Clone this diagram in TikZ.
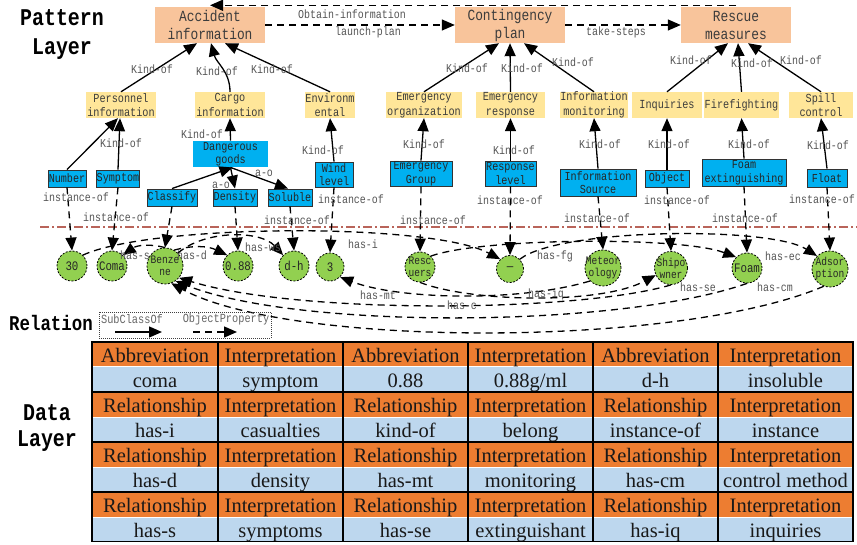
\documentclass[tikz,border=0pt]{standalone}
\usepackage{fontspec}
\setmainfont{Liberation Serif}
\newfontfamily\mono[FakeStretch=0.83]{Liberation Mono}
\usetikzlibrary{arrows.meta,calc}
\definecolor{peach}{RGB}{248,196,155}
\definecolor{ylw}{RGB}{255,230,153}
\definecolor{cyanb}{RGB}{0,176,240}
\definecolor{grn}{RGB}{146,208,80}
\definecolor{torange}{RGB}{237,125,49}
\definecolor{tblue}{RGB}{189,215,238}
\definecolor{sepred}{RGB}{185,100,90}
\definecolor{lblgray}{RGB}{85,85,85}
\definecolor{txtgray}{RGB}{60,60,60}
\tikzset{
 peachbox/.style={rectangle, fill=peach, minimum width=110, minimum height=36, inner sep=0pt, align=center, font={\mono\fontsize{15.5}{18}\selectfont}, text=txtgray},
 ybox/.style={rectangle, fill=ylw, minimum height=26, inner sep=0pt, align=center, font={\mono\fontsize{12.3}{14.5}\selectfont}, text=txtgray},
 bbox/.style={rectangle, fill=cyanb, draw=black!80, line width=0.9pt, inner sep=0pt, align=center, font={\mono\fontsize{12.2}{13.5}\selectfont}, text=black!85},
 inst/.style={circle, fill=grn, draw=black, line width=0.8pt, dash pattern=on 2pt off 1.5pt, inner sep=-6pt, align=center, font={\mono\fontsize{13}{12}\selectfont}, text=black!85},
 inst2/.style={inst, font={\mono\fontsize{11.5}{12}\selectfont}},
 lbl/.style={font={\mono\fontsize{12}{12}\selectfont}, text=lblgray, inner sep=0pt},
 ttl/.style={align=center, inner sep=0pt, font={\mono\bfseries\fontsize{24}{29}\selectfont}, text=black},
 subarrow/.style={line width=1.3pt, -{Triangle[length=13pt,width=11pt]}},
 objarrow/.style={line width=1.3pt, dash pattern=on 7pt off 5pt, -{Triangle[length=13pt,width=11pt]}},
 tcell/.style={rectangle, minimum height=24, inner sep=0pt, text height=16.5pt, text depth=0pt, font={\fontsize{20.5}{22}\selectfont}, text=black!90},
 legtxt/.style={font={\mono\fontsize{12.4}{12}\selectfont}, text=black!60, inner sep=0pt},
}
\begin{document}
\begin{tikzpicture}[x=1pt,y=1pt]
\fill[white] (0,0) rectangle (857,-545);
\useasboundingbox (0,0) rectangle (857,-545);

% ---------- titles
\node[ttl] (tpat) at (62,-35) {Pattern\\Layer};
\node[ttl, font={\mono\bfseries\fontsize{21}{24}\selectfont}] (trel) at (51,-323) {Relation};
\node[ttl, font={\mono\bfseries\fontsize{24}{26}\selectfont}] (tdat) at (47,-428) {Data\\Layer};

% ---------- top concepts
\node[peachbox] (acc) at (210,-25) {Accident\\information};
\node[peachbox] (cont) at (510,-25) {Contingency\\plan};
\node[peachbox] (resq) at (736,-25) {Rescue\\measures};

\draw[objarrow] ([yshift=1.5pt]resq.north) -- ([yshift=1.5pt]acc.north);
\node[lbl] (lobtain) at (352,-14) {Obtain-information};
\draw[objarrow] (acc.east) -- (cont.west);
\node[lbl] (llaunch) at (368,-32) {launch-plan};
\draw[objarrow] (cont.east) -- (resq.west);
\node[lbl] (ltake) at (616,-32) {take-steps};

% ---------- second level
\node[ybox, minimum width=70] (pers) at (121,-105) {Personnel\\information};
\node[ybox, minimum width=70] (cargo) at (230,-105) {Cargo\\information};
\node[ybox, minimum width=50] (env) at (330,-105) {Environm\\ental};
\node[ybox, minimum width=76] (eorg) at (424,-105) {Emergency\\organization};
\node[ybox, minimum width=69] (eresp) at (510.5,-105) {Emergency\\response};
\node[ybox, minimum width=68] (imon) at (594,-105) {Information\\monitoring};
\node[ybox, minimum width=70] (inq) at (667,-105) {Inquiries};
\node[ybox, minimum width=75] (fire) at (741.5,-105) {Firefighting};
\node[ybox, minimum width=64] (spill) at (821,-105) {Spill\\control};

\draw[subarrow] (pers.north) -- ($(acc.south)+(-13,0)$);
\draw[subarrow] (cargo.north) to[out=90,in=-75] ($(acc.south)+(1,0)$);
\draw[subarrow] (env.north) -- ($(acc.south)+(15,0)$);
\node[lbl] (k1) at (152,-69) {Kind-of};
\node[lbl] (k2) at (217,-71) {Kind-of};
\node[lbl] (k3) at (272,-69) {Kind-of};
\draw[subarrow] (eorg.north) -- ($(cont.south)+(-11,0)$);
\draw[subarrow] (eresp.north) -- (cont.south);
\draw[subarrow] (imon.north) -- ($(cont.south)+(14,0)$);
\node[lbl] (k4) at (467,-68) {Kind-of};
\node[lbl] (k5) at (522,-68) {Kind-of};
\node[lbl] (k6) at (573,-62) {Kind-of};
\draw[subarrow] (inq.north) -- ($(resq.south)+(-8,0)$);
\draw[subarrow] (fire.north) -- ($(resq.south)+(2,0)$);
\draw[subarrow] (spill.north) -- ($(resq.south)+(12,0)$);
\node[lbl] (k7) at (691,-60) {Kind-of};
\node[lbl] (k8) at (752,-63) {Kind-of};
\node[lbl] (k9) at (801,-60) {Kind-of};

% ---------- third level
\node[bbox, minimum width=38, minimum height=17] (number) at (67,-178.5) {Number};
\node[bbox, minimum width=42, minimum height=17] (symptom) at (118,-178.5) {Symptom};
\node[bbox, draw=none, minimum width=75, minimum height=26] (dg) at (230.5,-154) {Dangerous\\goods};
\node[bbox, minimum width=50, minimum height=17] (classify) at (172,-197.5) {Classify};
\node[bbox, minimum width=44, minimum height=17] (density) at (235,-197.5) {Density};
\node[bbox, minimum width=44, minimum height=17] (soluble) at (290,-197.5) {Soluble};
\node[bbox, minimum width=38, minimum height=25] (wind) at (334,-174.5) {Wind\\level};
\node[bbox, minimum width=62, minimum height=25] (egrp) at (421,-173.5) {Emergency\\Group};
\node[bbox, minimum width=51, minimum height=25] (rlev) at (510.5,-173.5) {Response\\level};
\node[bbox, minimum width=76, minimum height=27] (isrc) at (598,-182.5) {Information\\Source};
\node[bbox, minimum width=44, minimum height=17] (obj) at (667,-178.5) {Object};
\node[bbox, minimum width=84, minimum height=27] (foamx) at (744,-172.5) {Foam\\extinguishing};
\node[bbox, minimum width=40, minimum height=18] (float) at (827,-178) {Float};

\draw[subarrow] (number.north) -- ($(pers.south)+(-3,0)$);
\draw[subarrow] (symptom.north) -- ($(pers.south)+(-1,0)$);
\node[lbl] (k10) at (121,-143) {Kind-of};
\draw[subarrow] (dg.north) -- (cargo.south);
\node[lbl] (k11) at (202,-134) {Kind-of};
\draw[subarrow] (classify.north) -- ($(dg.south)+(2,0)$);
\draw[subarrow] (dg.south) -- (density.north);
\draw[subarrow] (dg.south) -- ($(soluble.north)+(-2,0)$);
\node[lbl] (ao1) at (221,-185) {a-o};
\node[lbl] (ao2) at (264,-173) {a-o};
\draw[subarrow] (wind.north) -- (env.south);
\node[lbl] (k12) at (323,-150) {Kind-of};
\draw[subarrow] (egrp.north) -- (eorg.south);
\node[lbl] (k13) at (424,-144) {Kind-of};
\draw[subarrow] (rlev.north) -- (eresp.south);
\node[lbl] (k14) at (514,-150) {Kind-of};
\draw[subarrow] (isrc.north) -- (imon.south);
\node[lbl] (k15) at (600,-144) {Kind-of};
\draw[subarrow] (obj.north) -- (inq.south);
\node[lbl] (k16) at (669,-144) {Kind-of};
\draw[subarrow] (foamx.north) -- (fire.south);
\node[lbl] (k17) at (749,-144) {Kind-of};
\draw[subarrow] (float.north) -- (spill.south);
\node[lbl] (k18) at (828,-145) {Kind-of};

% ---------- separator
\draw[sepred, line width=1.5pt, dash pattern=on 9pt off 3pt on 2pt off 3pt] (40,-227) -- (857,-227);

% ---------- instances
\node[inst, minimum size=30] (c30) at (72,-266) {30};
\node[inst, minimum size=30] (coma) at (112,-266) {Coma};
\node[inst2, minimum size=36] (benz) at (165,-266) {Benze\\ne};
\node[inst, minimum size=30] (c088) at (238,-266) {0.88};
\node[inst, minimum size=30] (dh) at (294,-266) {d-h};
\node[inst, minimum size=28] (c3) at (330,-267) {3};
\node[inst2, minimum size=30] (resc) at (420,-267) {Resc\\uers};
\node[inst, minimum size=27] (dash) at (510,-269) {—};
\node[inst2, minimum size=36] (meteo) at (603,-268) {Meteor\\ology};
\node[inst2, minimum size=33] (ship) at (671,-268) {Shipo\\wner};
\node[inst, minimum size=30] (foam) at (747,-268) {Foam};
\node[inst2, minimum size=36] (adsor) at (830,-269) {Adsor\\ption};

% instance-of
\draw[objarrow] (number.south) -- (c30.north);
\node[lbl] (i1) at (76,-197) {instance-of};
\draw[objarrow] (symptom.south) -- (coma.north);
\node[lbl] (i2) at (116,-217) {instance-of};
\draw[objarrow] (classify.south) -- (benz.north);
\draw[objarrow] (density.south) -- (c088.north);
\draw[objarrow] (soluble.south) -- (dh.north);
\node[lbl] (i3) at (297,-220) {instance-of};
\draw[objarrow] (wind.south) -- (c3.north);
\node[lbl] (i4) at (351,-199) {instance-of};
\draw[objarrow] (egrp.south) -- (resc.north);
\node[lbl] (i5) at (433,-220) {instance-of};
\draw[objarrow] (rlev.south) -- (dash.north);
\node[lbl] (i6) at (510,-200) {instance-of};
\draw[objarrow] (isrc.south) -- (meteo.north);
\node[lbl] (i7) at (597,-218) {instance-of};
\draw[objarrow] (obj.south) -- (ship.north);
\node[lbl] (i8) at (677,-200) {instance-of};
\draw[objarrow] (foamx.south) -- (foam.north);
\node[lbl] (i9) at (745,-218) {instance-of};
\draw[objarrow] (float.south) -- (adsor.north);
\node[lbl] (i10) at (822,-199) {instance-of};

% object properties among instances
\draw[objarrow] (benz.north) to[bend right=25] (coma.north east);
\node[lbl] (hs) at (135,-255) {has-s};
\draw[objarrow] (benz.60) to[bend left=20] (c088.north west);
\node[lbl] (hd) at (192,-255) {has-d};
\draw[objarrow] (benz.north east) .. controls (205,-230) and (260,-230) .. (dh.north west);
\node[lbl] (hws) at (263,-247) {has-ws};
\draw[objarrow] (c30.north east) .. controls (150,-224) and (430,-222) .. (dash.north west);
\node[lbl] (hi) at (363,-244) {has-i};
\draw[objarrow] (resc.north east) .. controls (480,-238) and (680,-236) .. (foam.north west);
\node[lbl] (hfg) at (555,-256) {has-fg};
\draw[objarrow] (dash.north east) .. controls (560,-228) and (770,-226) .. (adsor.north west);
\node[lbl] (hec) at (783,-256) {has-ec};
\draw[objarrow] (meteo.south west) .. controls (520,-302) and (400,-300) .. (c3.south east);
\node[lbl] (hmt) at (378,-295) {has-mt};
\draw[objarrow] (resc.south) .. controls (470,-302) and (600,-305) .. (ship.205);
\node[lbl] (hiq) at (546,-294) {has-iq};
\draw[objarrow] (ship.south) .. controls (580,-312) and (300,-315) .. (benz.-40);
\node[lbl] (hc) at (462,-305) {has-c};
\draw[objarrow] (foam.south) .. controls (620,-328) and (300,-330) .. (benz.-55);
\node[lbl] (hse) at (698,-287) {has-se};
\draw[objarrow] (adsor.250) .. controls (680,-348) and (290,-348) .. (benz.-70);
\node[lbl] (hcm) at (775,-287) {has-cm};

% ---------- legend
\node[draw=black!75, line width=0.8pt, dash pattern=on 1pt off 1pt, minimum width=172, minimum height=26, inner sep=0pt] (legbox) at (185,-325) {};
\node[legtxt] (lsub) at (132,-319.5) {SubClassOf};
\node[legtxt] (lobj) at (226,-319.5) {ObjectProperty};
\coordinate (ls1) at (115,-332);
\coordinate (ls2) at (162,-332);
\coordinate (lo1) at (193,-332);
\coordinate (lo2) at (237,-332);
\draw[subarrow] (ls1) -- (ls2);
\draw[objarrow] (lo1) -- (lo2);

% ---------- data table
\foreach \rowtxt [count=\r from 0] in {
 {Abbreviation,Interpretation,Abbreviation,Interpretation,Abbreviation,Interpretation},
 {coma,symptom,0.88,0.88g/ml,d-h,insoluble},
 {Relationship,Interpretation,Relationship,Interpretation,Relationship,Interpretation},
 {has-i,casualties,kind-of,belong,instance-of,instance},
 {Relationship,Interpretation,Relationship,Interpretation,Relationship,Interpretation},
 {has-d,density,has-mt,monitoring,has-cm,control method},
 {Relationship,Interpretation,Relationship,Interpretation,Relationship,Interpretation},
 {has-s,symptoms,has-se,extinguishant,has-iq,inquiries}}{
 \foreach \t [count=\c from 0] in \rowtxt {
  \pgfmathsetmacro\cx{{155,280.5,405.5,530.5,655.5,785.5}[\c]}
  \pgfmathsetmacro\cw{{125,124,124,124,124,134}[\c]}
  \ifodd\r \def\cc{tblue}\else\def\cc{torange}\fi
  \node[tcell, fill=\cc, minimum width=\cw] (cell-\r-\c) at (\cx,{-354.5-25*\r}) {\t};
 }
}
\foreach \yy in {342,392,442,492,541.5}
  \draw[line width=1.8pt] (91.1,-\yy) -- (853.9,-\yy);
\foreach \xx in {92,218,343,468,593,718,853}
  \draw[line width=1.8pt] (\xx,-342) -- (\xx,-541.5);
\end{tikzpicture}
\end{document}
